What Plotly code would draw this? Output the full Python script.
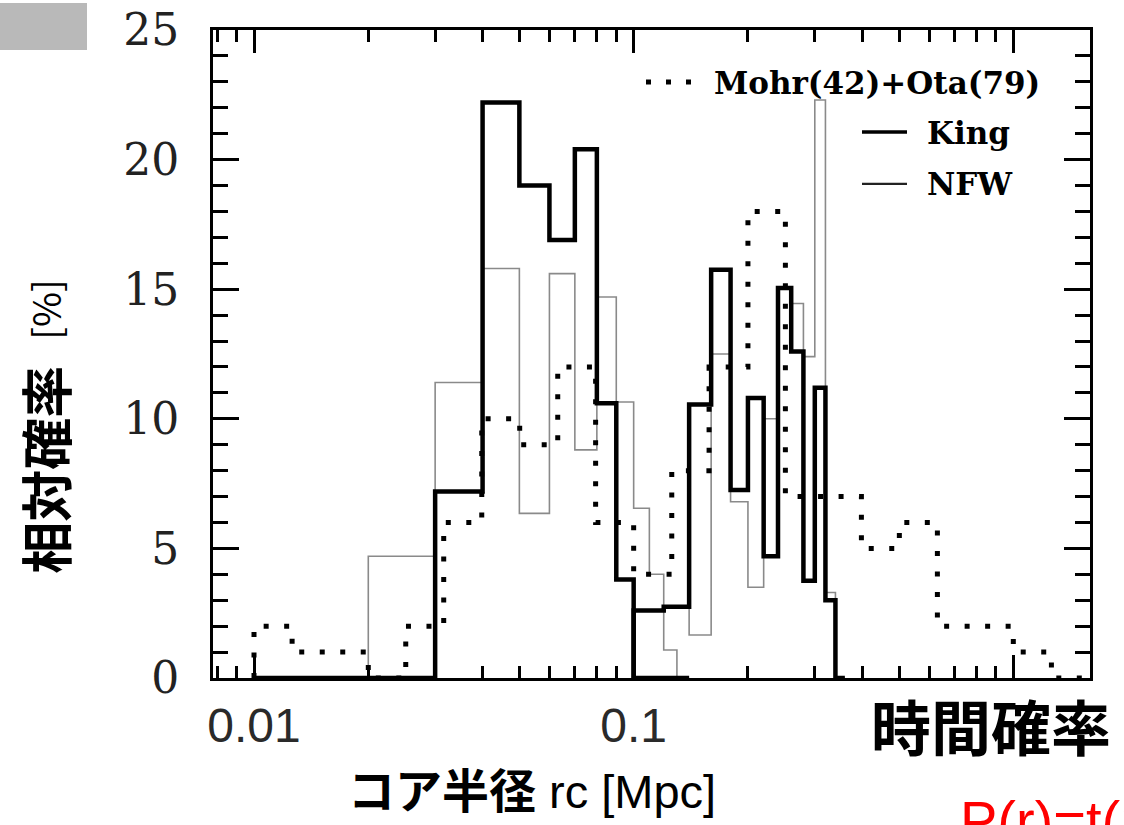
import plotly.graph_objects as go

# ---------------------------------------------------------------------------
# Core-radius distributions (relative probability, %)
# ---------------------------------------------------------------------------
# Observed sample Mohr(42)+Ota(79), 0.1-dex bins
mohr_edges = [0.01, 0.0126, 0.0158, 0.02, 0.0251, 0.0316, 0.0398, 0.0501, 0.0631,
              0.0794, 0.1, 0.126, 0.158, 0.2, 0.251, 0.316, 0.398, 0.501, 0.631,
              0.794, 1.0, 1.26, 1.585]
mohr_vals = [2, 1, 1, 0, 2, 6, 10, 9, 12, 6, 4, 8, 12, 18, 7, 7, 5, 6, 2, 2, 1, 0]

# Model histograms: 0.01 Mpc bins below 0.14, 0.02 Mpc bins above 0.1
fine_edges = [0.01, 0.02, 0.03, 0.04, 0.05, 0.06, 0.07, 0.08, 0.09, 0.10,
              0.11, 0.12, 0.13, 0.14]
coarse_edges = [0.10, 0.12, 0.14, 0.16, 0.18, 0.20, 0.22, 0.24, 0.26, 0.28,
                0.30, 0.32, 0.34, 0.36]

king_fine = [0, 0, 7.2, 22.2, 19.0, 16.9, 20.4, 10.6, 3.8, 0, 0, 0, 0]
king_coarse = [2.6, 2.75, 10.55, 15.75, 7.25, 10.8, 4.7, 15.05, 12.6, 3.75, 11.2, 3.0, 0]

nfw_fine = [0, 4.7, 11.4, 15.8, 6.35, 15.6, 8.8, 14.7, 10.65, 6.55, 4.0, 1.08, 0]
nfw_coarse = [2.6, 2.75, 1.66, 12.5, 6.8, 3.5, 10.0, 15.0, 14.45, 12.4, 22.3, 3.3, 0]

y_ticks = [0, 5, 10, 15, 20, 25]
x_ticks = [0.01, 0.1, 1]
x_ticktext = ["0.01", "0.1", ""]
x_minor = [0.008, 0.009, 0.02, 0.03, 0.04, 0.05, 0.06, 0.07, 0.08, 0.09,
           0.2, 0.3, 0.4, 0.5, 0.6, 0.7, 0.8, 0.9]


def step_path(edges, vals):
    """Outline of a histogram: rise from zero, flat tops, drop back to zero."""
    xs, ys = [edges[0]], [0]
    for i, v in enumerate(vals):
        xs += [edges[i], edges[i + 1]]
        ys += [v, v]
    xs.append(edges[-1])
    ys.append(0)
    return xs, ys


def joined(*parts):
    xs, ys = [], []
    for edges, vals in parts:
        px, py = step_path(edges, vals)
        if xs:
            xs.append(None)
            ys.append(None)
        xs += px
        ys += py
    return xs, ys


# ---------------------------------------------------------------------------
# Page geometry (pixels)
# ---------------------------------------------------------------------------
W_FIG, H_FIG = 1124, 825
L, R, T, B = 213, 1090, 30, 678.5
PW, PH = R - L, B - T


def xp(px):
    return (px - L) / PW


def yp(py):
    return (B - py) / PH


fig = go.Figure()

nx, ny = joined((fine_edges, nfw_fine), (coarse_edges, nfw_coarse))
fig.add_trace(go.Scatter(x=nx, y=ny, mode="lines", name="NFW",
                         line=dict(color="#8a8a8a", width=1.6)))

kx, ky = joined((fine_edges, king_fine), (coarse_edges, king_coarse))
fig.add_trace(go.Scatter(x=kx, y=ky, mode="lines", name="King",
                         line=dict(color="black", width=4.5)))

mx, my = step_path(mohr_edges, mohr_vals)
fig.add_trace(go.Scatter(x=mx, y=my, mode="lines", name="Mohr(42)+Ota(79)",
                         line=dict(color="black", width=5, dash="5px,15.5px")))

# ---------------------------------------------------------------------------
# Axes: boxed frame with inward ticks on every side
# ---------------------------------------------------------------------------
fig.update_xaxes(
    type="log", range=[-2.108, 0.202],
    showline=True, linecolor="black", linewidth=3, mirror="allticks",
    ticks="inside", ticklen=23, tickwidth=2.5, tickcolor="black",
    tickvals=x_ticks, ticktext=x_ticktext,
    tickfont=dict(family="Liberation Sans, Arial", size=48, color="#2a2a2a"),
    ticklabelstandoff=3,
    minor=dict(tickvals=x_minor, ticks="inside", ticklen=12, tickwidth=2.5,
               tickcolor="black", showgrid=False),
    showgrid=False, zeroline=False,
)
fig.update_yaxes(
    range=[0, 25],
    showline=True, linecolor="black", linewidth=3, mirror="allticks",
    ticks="inside", ticklen=26, tickwidth=2.5, tickcolor="black",
    tickvals=y_ticks,
    tickfont=dict(family="DejaVu Serif", size=44, color="#222222"),
    ticklabelstandoff=22,
    minor=dict(dtick=1, ticks="inside", ticklen=15, tickwidth=2.5,
               tickcolor="black", showgrid=False),
    showgrid=False, zeroline=False,
)

# ---------------------------------------------------------------------------
# Legend drawn inside the frame
# ---------------------------------------------------------------------------
legend_font = dict(family="DejaVu Serif", size=31, color="black", weight="bold")
legend_rows = [
    ("Mohr(42)+Ota(79)", 712, 83),
    ("King", 925, 133),
    ("NFW", 925, 184),
]
annotations = []
for text, x0, yc in legend_rows:
    annotations.append(dict(text=text, x=xp(x0), y=yp(yc), xanchor="left",
                            yanchor="middle", font=legend_font))

shapes = [
    dict(type="line", xref="paper", yref="paper", x0=xp(646), x1=xp(691),
         y0=yp(82), y1=yp(82), line=dict(color="black", width=5, dash="5px,15px")),
    dict(type="line", xref="paper", yref="paper", x0=xp(862), x1=xp(907),
         y0=yp(132), y1=yp(132), line=dict(color="black", width=3.5)),
    dict(type="line", xref="paper", yref="paper", x0=xp(862), x1=xp(907),
         y0=yp(184), y1=yp(184), line=dict(color="#222222", width=2.4)),
    # grey slide tab in the top-left corner
    dict(type="rect", xref="paper", yref="paper", x0=xp(0), x1=xp(87),
         y0=yp(50), y1=yp(3), line=dict(width=0), fillcolor="#b9b9b9", layer="above"),
]

# ---------------------------------------------------------------------------
# Axis titles and slide captions
# ---------------------------------------------------------------------------
cjk = "Noto Sans CJK JP"
annotations += [
    dict(text="<b>相対確率</b>", x=xp(45), y=yp(470), textangle=-90,
         xanchor="center", yanchor="middle",
         font=dict(family=cjk, size=52, color="black")),
    dict(text="[%]", x=xp(45), y=yp(310), textangle=-90,
         xanchor="center", yanchor="middle",
         font=dict(family=cjk, size=38, color="black")),
    dict(text="<b>コア半径</b> rc [Mpc]", x=xp(532), y=yp(792),
         xanchor="center", yanchor="middle",
         font=dict(family="Liberation Sans, " + cjk, size=47, color="black")),
    dict(text="<b>時間確率</b>", x=xp(991), y=yp(725),
         xanchor="center", yanchor="middle",
         font=dict(family=cjk, size=60, color="black")),
    dict(text="P(r)=t(r)/T", x=xp(958), y=yp(788), xanchor="left", yanchor="top",
         font=dict(family="Liberation Sans, Arial", size=56, color="#ff0000")),
]
for a in annotations:
    a["xref"] = "paper"
    a["yref"] = "paper"
    a["showarrow"] = False

fig.update_layout(
    width=W_FIG, height=H_FIG,
    margin=dict(l=L, r=W_FIG - R, t=T, b=H_FIG - B, autoexpand=False),
    paper_bgcolor="white", plot_bgcolor="white",
    showlegend=False,
    annotations=annotations,
    shapes=shapes,
)

fig.write_html("out.html")
